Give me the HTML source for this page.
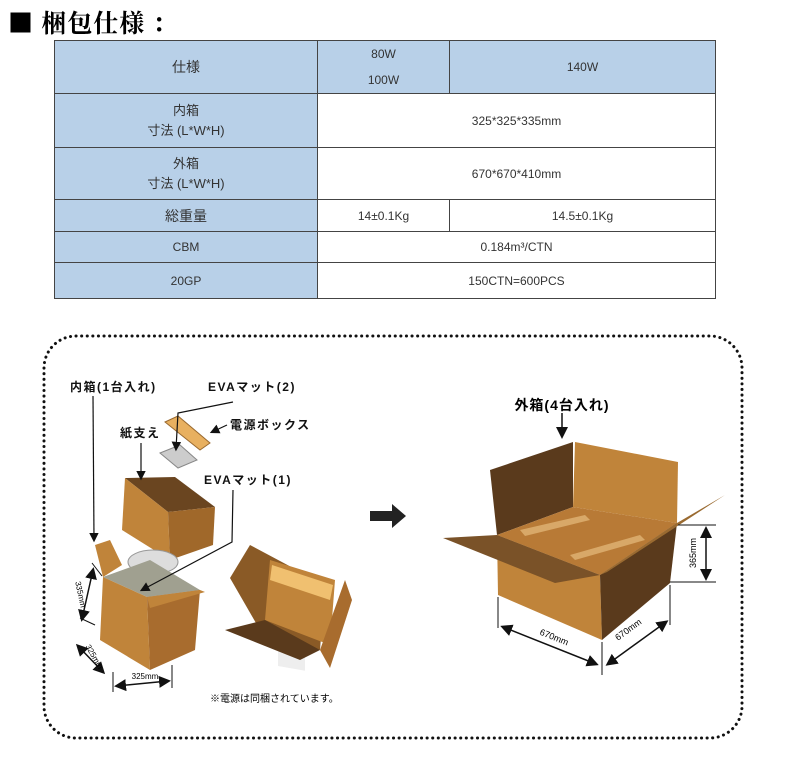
<!DOCTYPE html>
<html><head><meta charset="utf-8"><style>
body{margin:0;background:#fff;width:793px;height:760px;position:relative;overflow:hidden;font-family:"Liberation Sans","Noto Sans CJK JP",sans-serif;}
.t{position:absolute;}
table{border-collapse:collapse;position:absolute;left:54px;top:40px;width:662px;font-size:12px;color:#333;}
td{border:1.5px solid #444;text-align:center;padding:0;}
td.h{background:#b8d0e8;}
</style></head><body>
<div class="t" style="left:8px;top:4px;font-size:25px;font-weight:bold;font-family:'Noto Serif CJK SC',serif;letter-spacing:1px;">■ 梱包仕様 ：</div>
<table>
<tr style="height:52px"><td class="h" style="width:262px;font-size:14px">仕様</td><td class="h" style="width:131px;line-height:26px">80W<br>100W</td><td class="h">140W</td></tr>
<tr style="height:54px"><td class="h" style="font-size:13px;line-height:20px">内箱<br>寸法 (L*W*H)</td><td colspan="2">325*325*335mm</td></tr>
<tr style="height:52px"><td class="h" style="font-size:13px;line-height:20px">外箱<br>寸法 (L*W*H)</td><td colspan="2">670*670*410mm</td></tr>
<tr style="height:32px"><td class="h" style="font-size:14px">総重量</td><td>14±0.1Kg</td><td>14.5±0.1Kg</td></tr>
<tr style="height:31px"><td class="h">CBM</td><td colspan="2">0.184m³/CTN</td></tr>
<tr style="height:36px"><td class="h">20GP</td><td colspan="2">150CTN=600PCS</td></tr>
</table>
<svg width="793" height="760" style="position:absolute;left:0;top:0" font-family="Liberation Sans,Noto Sans CJK JP,sans-serif">
<defs><marker id="a" markerWidth="8" markerHeight="8" refX="6" refY="4" orient="auto"><path d="M0,0L8,4L0,8z" fill="#111"/></marker>
<marker id="b" markerWidth="8" markerHeight="8" refX="2" refY="4" orient="auto"><path d="M8,0L0,4L8,8z" fill="#111"/></marker></defs>
<rect x="44" y="336" width="698" height="402" rx="32" fill="none" stroke="#111" stroke-width="3" stroke-dasharray="0.1 5.5" stroke-linecap="round"/>
<path d="M370 511h22v-7l14 12l-14 12v-7h-22z" fill="#222"/>
<!-- outer box -->
<polygon points="490,470 573,442 573,507 497,535" fill="#5a3a1c"/>
<polygon points="575,442 678,462 677,523 573,507" fill="#c0843a"/>
<polygon points="497,535 573,507 677,523 600,575" fill="#b87a36"/>
<polygon points="520,530 585,515 590,520 525,536" fill="#d8a868"/><polygon points="570,555 640,535 645,540 575,560" fill="#d8a868"/>
<polygon points="497,535 600,575 602,640 498,595" fill="#c0843a"/>
<polygon points="600,575 677,523 670,583 602,640" fill="#5a3a1c"/>
<polygon points="443,538 497,535 600,575 555,583" fill="#7a5228"/>
<polygon points="677,523 725,495 607,572 600,575" fill="#9a6a30"/>
<line x1="562" y1="413" x2="562" y2="436" stroke="#111" stroke-width="1.5" marker-end="url(#a)"/>
<text x="562" y="410" font-size="14" font-weight="bold" text-anchor="middle" letter-spacing="1">外箱(4台入れ)</text>
<line x1="678" y1="525" x2="716" y2="525" stroke="#111"/><line x1="670" y1="582" x2="716" y2="582" stroke="#111"/>
<line x1="706" y1="529" x2="706" y2="578" stroke="#111" stroke-width="1.5" marker-start="url(#b)" marker-end="url(#a)"/>
<text x="696" y="553" font-size="9" transform="rotate(-90 696 553)" text-anchor="middle">365mm</text>
<line x1="498" y1="597" x2="498" y2="628" stroke="#111"/><line x1="602" y1="642" x2="602" y2="675" stroke="#111"/><line x1="670" y1="585" x2="670" y2="625" stroke="#111"/>
<line x1="503" y1="627" x2="596" y2="664" stroke="#111" stroke-width="1.5" marker-start="url(#b)" marker-end="url(#a)"/>
<line x1="608" y1="664" x2="666" y2="622" stroke="#111" stroke-width="1.5" marker-start="url(#b)" marker-end="url(#a)"/>
<text x="553" y="640" font-size="9" transform="rotate(22 553 640)" text-anchor="middle">670mm</text>
<text x="630" y="632" font-size="9" transform="rotate(-36 630 632)" text-anchor="middle">670mm</text>
<!-- left: EVA, power box -->
<polygon points="165,422 178,416 210,443 200,450" fill="#e8b060" stroke="#9a6a30"/>
<polygon points="160,453 180,445 197,460 178,468" fill="#ccc" stroke="#888"/>
<!-- lid -->
<polygon points="125,478 175,477 215,507 168,512" fill="#6a4520"/>
<polygon points="125,478 168,512 170,560 122,530" fill="#c0843a"/>
<polygon points="168,512 215,507 213,545 170,560" fill="#a0682a"/>
<ellipse cx="153" cy="562" rx="25" ry="12" fill="#ddd" stroke="#999"/>
<!-- inner box -->
<polygon points="95,545 103,577 122,565 110,540" fill="#c0843a"/>
<polygon points="103,577 150,560 200,590 147,597" fill="#a0a090"/>
<polygon points="103,577 147,597 150,670 100,640" fill="#c0843a"/>
<polygon points="147,597 200,590 195,650 150,670" fill="#a86c2e"/>
<polygon points="147,597 200,590 205,592 150,608" fill="#c0843a"/>
<!-- open box -->
<polygon points="230,578 250,545 325,585 320,650 260,630" fill="#8a5a26"/>
<polygon points="270,560 335,580 330,645 265,620" fill="#c0843a"/>
<polygon points="272,565 333,585 330,600 270,580" fill="#f0c070"/>
<rect x="278" y="592" width="27" height="25" fill="#eee" transform="skewY(10)"/>
<polygon points="225,630 265,620 320,650 300,660" fill="#5a3a1c"/>
<polygon points="320,650 345,580 352,600 330,668" fill="#a86c2e"/>
<g font-size="12" font-weight="bold" fill="#111" letter-spacing="1.5">
<text x="70" y="391">内箱(1台入れ)</text><text x="208" y="391">EVAマット(2)</text>
<text x="230" y="429">電源ボックス</text><text x="120" y="437">紙支え</text>
<text x="204" y="484">EVAマット(1)</text></g>
<line x1="93" y1="396" x2="94" y2="540" stroke="#111" stroke-width="1.2" marker-end="url(#a)"/>
<path d="M233 402L178 413L176 449" fill="none" stroke="#111" stroke-width="1.2" marker-end="url(#a)"/>
<line x1="227" y1="425" x2="212" y2="432" stroke="#111" stroke-width="1.2" marker-end="url(#a)"/>
<line x1="141" y1="443" x2="141" y2="478" stroke="#111" stroke-width="1.2" marker-end="url(#a)"/>
<path d="M233 490L232 542L142 590" fill="none" stroke="#111" stroke-width="1.2" marker-end="url(#a)"/>
<line x1="92" y1="563" x2="102" y2="576" stroke="#111"/><line x1="80" y1="618" x2="95" y2="625" stroke="#111"/>
<line x1="93" y1="570" x2="82" y2="619" stroke="#111" stroke-width="1.5" marker-start="url(#b)" marker-end="url(#a)"/>
<text x="78" y="595" font-size="8" transform="rotate(78 78 595)" text-anchor="middle">335mm</text>
<line x1="78" y1="646" x2="103" y2="672" stroke="#111" stroke-width="1.5" marker-start="url(#b)" marker-end="url(#a)"/>
<text x="92" y="658" font-size="8" transform="rotate(60 92 658)" text-anchor="middle">325mm</text>
<line x1="113" y1="672" x2="113" y2="692" stroke="#111"/><line x1="172" y1="665" x2="172" y2="688" stroke="#111"/>
<line x1="117" y1="686" x2="168" y2="681" stroke="#111" stroke-width="1.5" marker-start="url(#b)" marker-end="url(#a)"/>
<text x="145" y="679" font-size="8" text-anchor="middle">325mm</text>
<text x="210" y="702" font-size="10">※電源は同梱されています。</text>
</svg>
</body></html>
